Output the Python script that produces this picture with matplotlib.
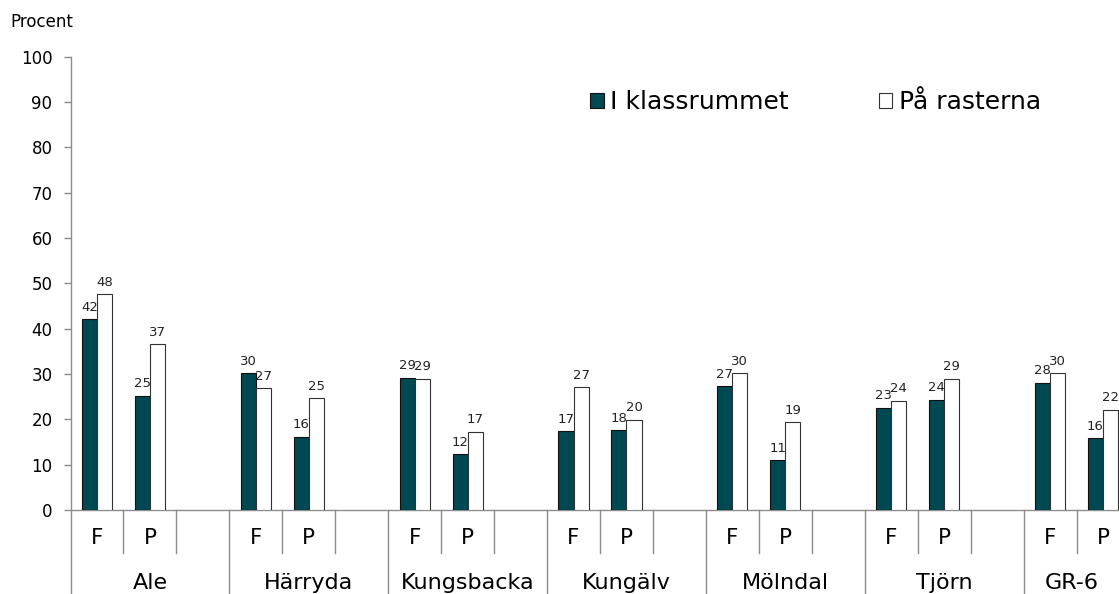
import matplotlib
matplotlib.use("Agg")
import matplotlib.pyplot as plt
from matplotlib.patches import Patch

# data (percent)
groups = ['Ale', 'Härryda', 'Kungsbacka', 'Kungälv', 'Mölndal', 'Tjörn', 'GR-6']
subs = ['F', 'P']
klass_F = [42.1, 30.2, 29.2, 17.4, 27.3, 22.6, 28.1]
klass_P = [25.2, 16.1, 12.3, 17.6, 11.0, 24.3, 15.8]
rast_F = [47.6, 26.9, 29.0, 27.1, 30.2, 24.1, 30.2]
rast_P = [36.6, 24.6, 17.3, 19.9, 19.4, 28.9, 22.1]
series_names = ['I klassrummet', 'På rasterna']

DARK = '#004852'
GREY = '#8c8c8c'

fig = plt.figure(figsize=(11.19, 5.94), dpi=100)
W, H = 1119.0, 594.0
slot = 52.95
nslots = 3 * len(groups)
ax = fig.add_axes([70.5 / W, 84 / H, nslots * slot / W, 453.3 / H])

bw = 0.285
klass = {'F': klass_F, 'P': klass_P}
rast = {'F': rast_F, 'P': rast_P}
for g, name in enumerate(groups):
    for s, sub in enumerate(subs):
        xc = 3 * g + s + 0.5
        for val, off, fc, ec in [(klass[sub][g], -bw / 2, DARK, '#111111'),
                                 (rast[sub][g], bw / 2, 'white', '#333333')]:
            ax.bar(xc + off, val, width=bw, color=fc, edgecolor=ec, linewidth=0.8, zorder=3)
            ax.annotate(f"{val:.0f}", (xc + off, val), xytext=(0, 4),
                        textcoords='offset points', ha='center', va='bottom',
                        fontsize=9.5, color='#222222', zorder=4)

ax.set_xlim(0, nslots)
ax.set_ylim(0, 100)
ax.set_yticks(range(0, 101, 10))
ax.tick_params(axis='y', direction='out', length=5, width=1, color=GREY, pad=8, labelsize=12)
ax.set_xticks([])
for sp in ['top', 'right']:
    ax.spines[sp].set_visible(False)
for sp in ['left', 'bottom']:
    ax.spines[sp].set_color(GREY)
    ax.spines[sp].set_linewidth(1)

# two level category axis; the axis runs past the right edge of the figure,
# so the last group label is centred on its visible part
x_visible = (W - 70.5) / slot
tr = ax.get_xaxis_transform()
for b in range(nslots + 1):
    y_end = -0.3 if b % 3 == 0 else -0.095
    ax.plot([b, b], [0, y_end], transform=tr, color=GREY, lw=1, clip_on=False)
for g, name in enumerate(groups):
    for s, sub in enumerate(subs):
        ax.text(3 * g + s + 0.5, -0.062, sub, transform=tr, ha='center', va='center', fontsize=15.5)
    xg = min(3 * g + 1.5, (3 * g + x_visible) / 2)
    ax.text(xg, -0.161, name, transform=tr, ha='center', va='center', fontsize=16)

fig.text(10 / W, 1 - 22 / H, 'Procent', ha='left', va='center', fontsize=12)

handles = [Patch(facecolor=DARK, edgecolor='#111111', lw=0.8),
           Patch(facecolor='white', edgecolor='#333333', lw=0.8)]
fig.legend(handles, series_names, loc='center left', bbox_to_anchor=(590 / W, 1 - 102 / H),
           bbox_transform=fig.transFigure, ncol=2, frameon=False, fontsize=18,
           handlelength=0.55, handleheight=0.55, handletextpad=0.25, columnspacing=3.6,
           borderpad=0, borderaxespad=0)

fig.savefig('out.png', dpi=100)
